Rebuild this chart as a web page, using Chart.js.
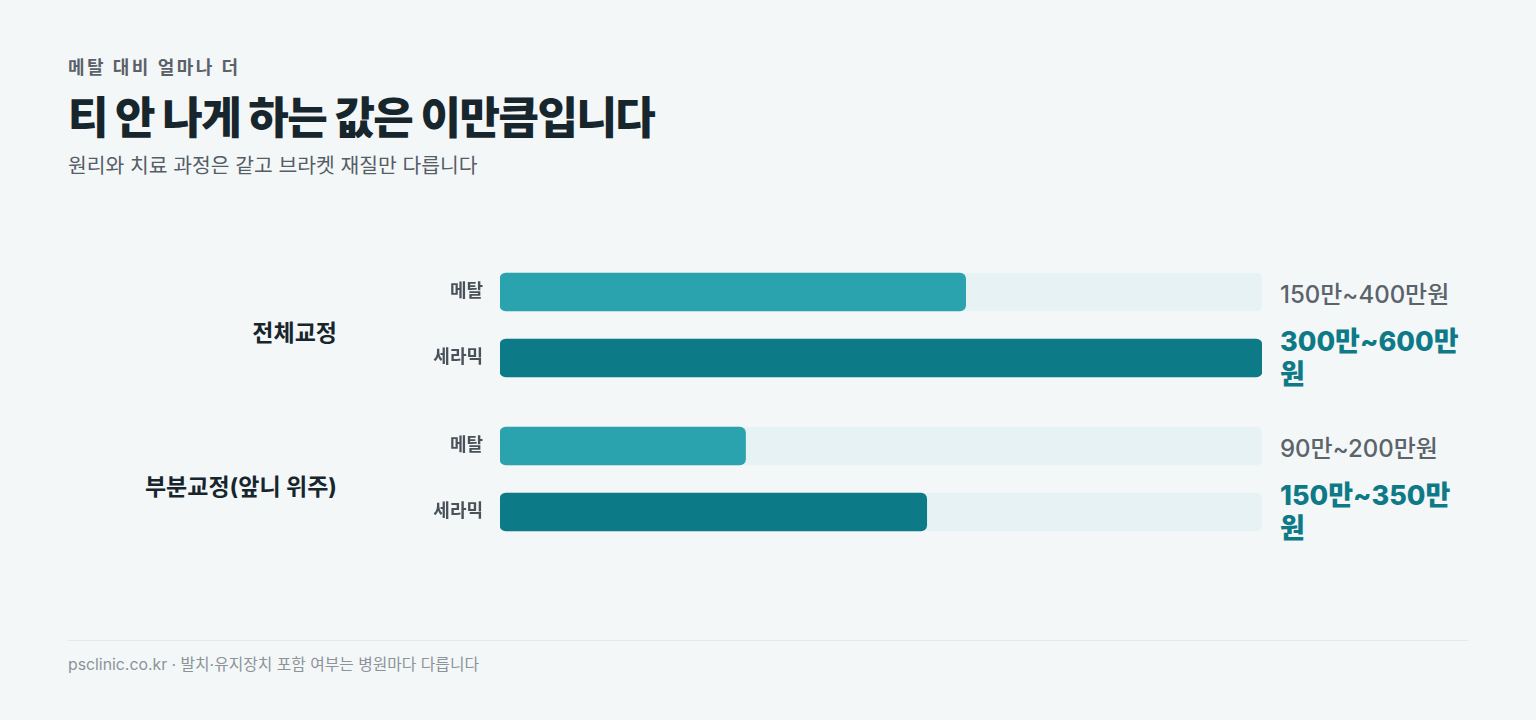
<!DOCTYPE html>
<html lang="ko">
<head>
<meta charset="utf-8">
<script src="https://cdn.jsdelivr.net/npm/chart.js@4/dist/chart.umd.min.js"></script>
<style>
  body { margin: 0; background: #f4f7f8; font-family: Inter, "Noto Sans CJK KR", sans-serif; width: 1536px; height: 720px; overflow: hidden; position: relative; }
  .kicker { position: absolute; left: 68px; top: 56px; line-height: 24px; font-size: 18px; font-weight: 600; color: #5a6169; letter-spacing: 2.4px; }
  .title { position: absolute; left: 68px; top: 90px; line-height: 56px; font-size: 44px; font-weight: 800; color: #17262d; letter-spacing: -1.5px; }
  .sub { position: absolute; left: 68px; top: 152px; line-height: 28px; font-size: 20.4px; color: #555d66; }
  .group { position: absolute; left: 68px; width: 1400px; height: 132px; }
  .glabel { position: absolute; left: 0; width: 269px; top: 6px; height: 132px; display: flex; align-items: center; justify-content: flex-end; font-size: 23px; font-weight: 700; color: #17262d; }
  .cwrap { position: absolute; left: 332px; width: 862px; top: 0; height: 132px; }
  .vals { position: absolute; left: 1212px; width: 188px; top: 0; }
  .val { height: 66px; display: flex; align-items: center; }
  .val.m { font-size: 24px; font-weight: 500; color: #5b636b; }
  .val.c { font-size: 27px; font-weight: 800; color: #0e7a87; line-height: 33px; }
  .rule { position: absolute; left: 68px; width: 1400px; top: 640px; height: 1px; background: #e3e8ea; }
  .foot { position: absolute; left: 68px; top: 655px; line-height: 20px; font-size: 15.8px; color: #8c9399; }
</style>
</head>
<body>
<div class="kicker">메탈 대비 얼마나 더</div>
<div class="title">티 안 나게 하는 값은 이만큼입니다</div>
<div class="sub">원리와 치료 과정은 같고 브라켓 재질만 다릅니다</div>
<div id="groups"></div>
<div class="rule"></div>
<div class="foot">psclinic.co.kr · 발치·유지장치 포함 여부는 병원마다 다릅니다</div>
<script>
// 데이터 (단위: 만원)
var groups = ['전체교정', '부분교정(앞니 위주)'];
var materials = ['메탈', '세라믹'];
var priceLow = [[150, 300], [90, 150]];
var priceHigh = [[400, 600], [200, 350]];
var barValues = [[275, 450], [145, 252]]; // 막대 길이
var axisMax = 450;

var materialColors = ['#2ba3ae', '#0c7a87'];
var trackColor = '#e7f2f4';
var groupTops = [259, 413];

var host = document.getElementById('groups');

groups.forEach(function(name, gi) {
  var g = document.createElement('div');
  g.className = 'group';
  g.style.top = groupTops[gi] + 'px';

  var label = document.createElement('div');
  label.className = 'glabel';
  label.textContent = name;
  g.appendChild(label);

  var wrap = document.createElement('div');
  wrap.className = 'cwrap';
  var canvas = document.createElement('canvas');
  wrap.appendChild(canvas);
  g.appendChild(wrap);

  var vals = document.createElement('div');
  vals.className = 'vals';
  materials.forEach(function(m, mi) {
    var v = document.createElement('div');
    v.className = 'val ' + (mi === 0 ? 'm' : 'c');
    v.textContent = priceLow[gi][mi] + '만~' + priceHigh[gi][mi] + '만원';
    vals.appendChild(v);
  });
  g.appendChild(vals);
  host.appendChild(g);

  new Chart(canvas.getContext('2d'), {
    type: 'bar',
    data: {
      labels: materials,
      datasets: [{
        data: barValues[gi],
        backgroundColor: materialColors,
        borderRadius: 6,
        borderSkipped: false,
        barThickness: 38,
        maxBarThickness: 38,
        grouped: false
      }, {
        data: materials.map(function() { return axisMax; }),
        backgroundColor: trackColor,
        borderRadius: 6,
        borderSkipped: false,
        barThickness: 38,
        maxBarThickness: 38,
        grouped: false
      }]
    },
    options: {
      indexAxis: 'y',
      responsive: true,
      maintainAspectRatio: false,
      animation: false,
      layout: { padding: 0 },
      plugins: { legend: { display: false }, tooltip: { enabled: false } },
      scales: {
        x: { display: false, min: 0, max: axisMax },
        y: {
          grid: { display: false, drawTicks: false },
          border: { display: false },
          ticks: {
            padding: 17,
            color: '#4a5259',
            font: { family: 'Inter, "Noto Sans CJK KR"', size: 18, weight: 600 }
          },
          afterFit: function(scale) {
            scale.width = 100;
            scale.paddingTop = 0;
            scale.paddingBottom = 0;
          }
        }
      }
    }
  });
});
</script>
</body>
</html>
